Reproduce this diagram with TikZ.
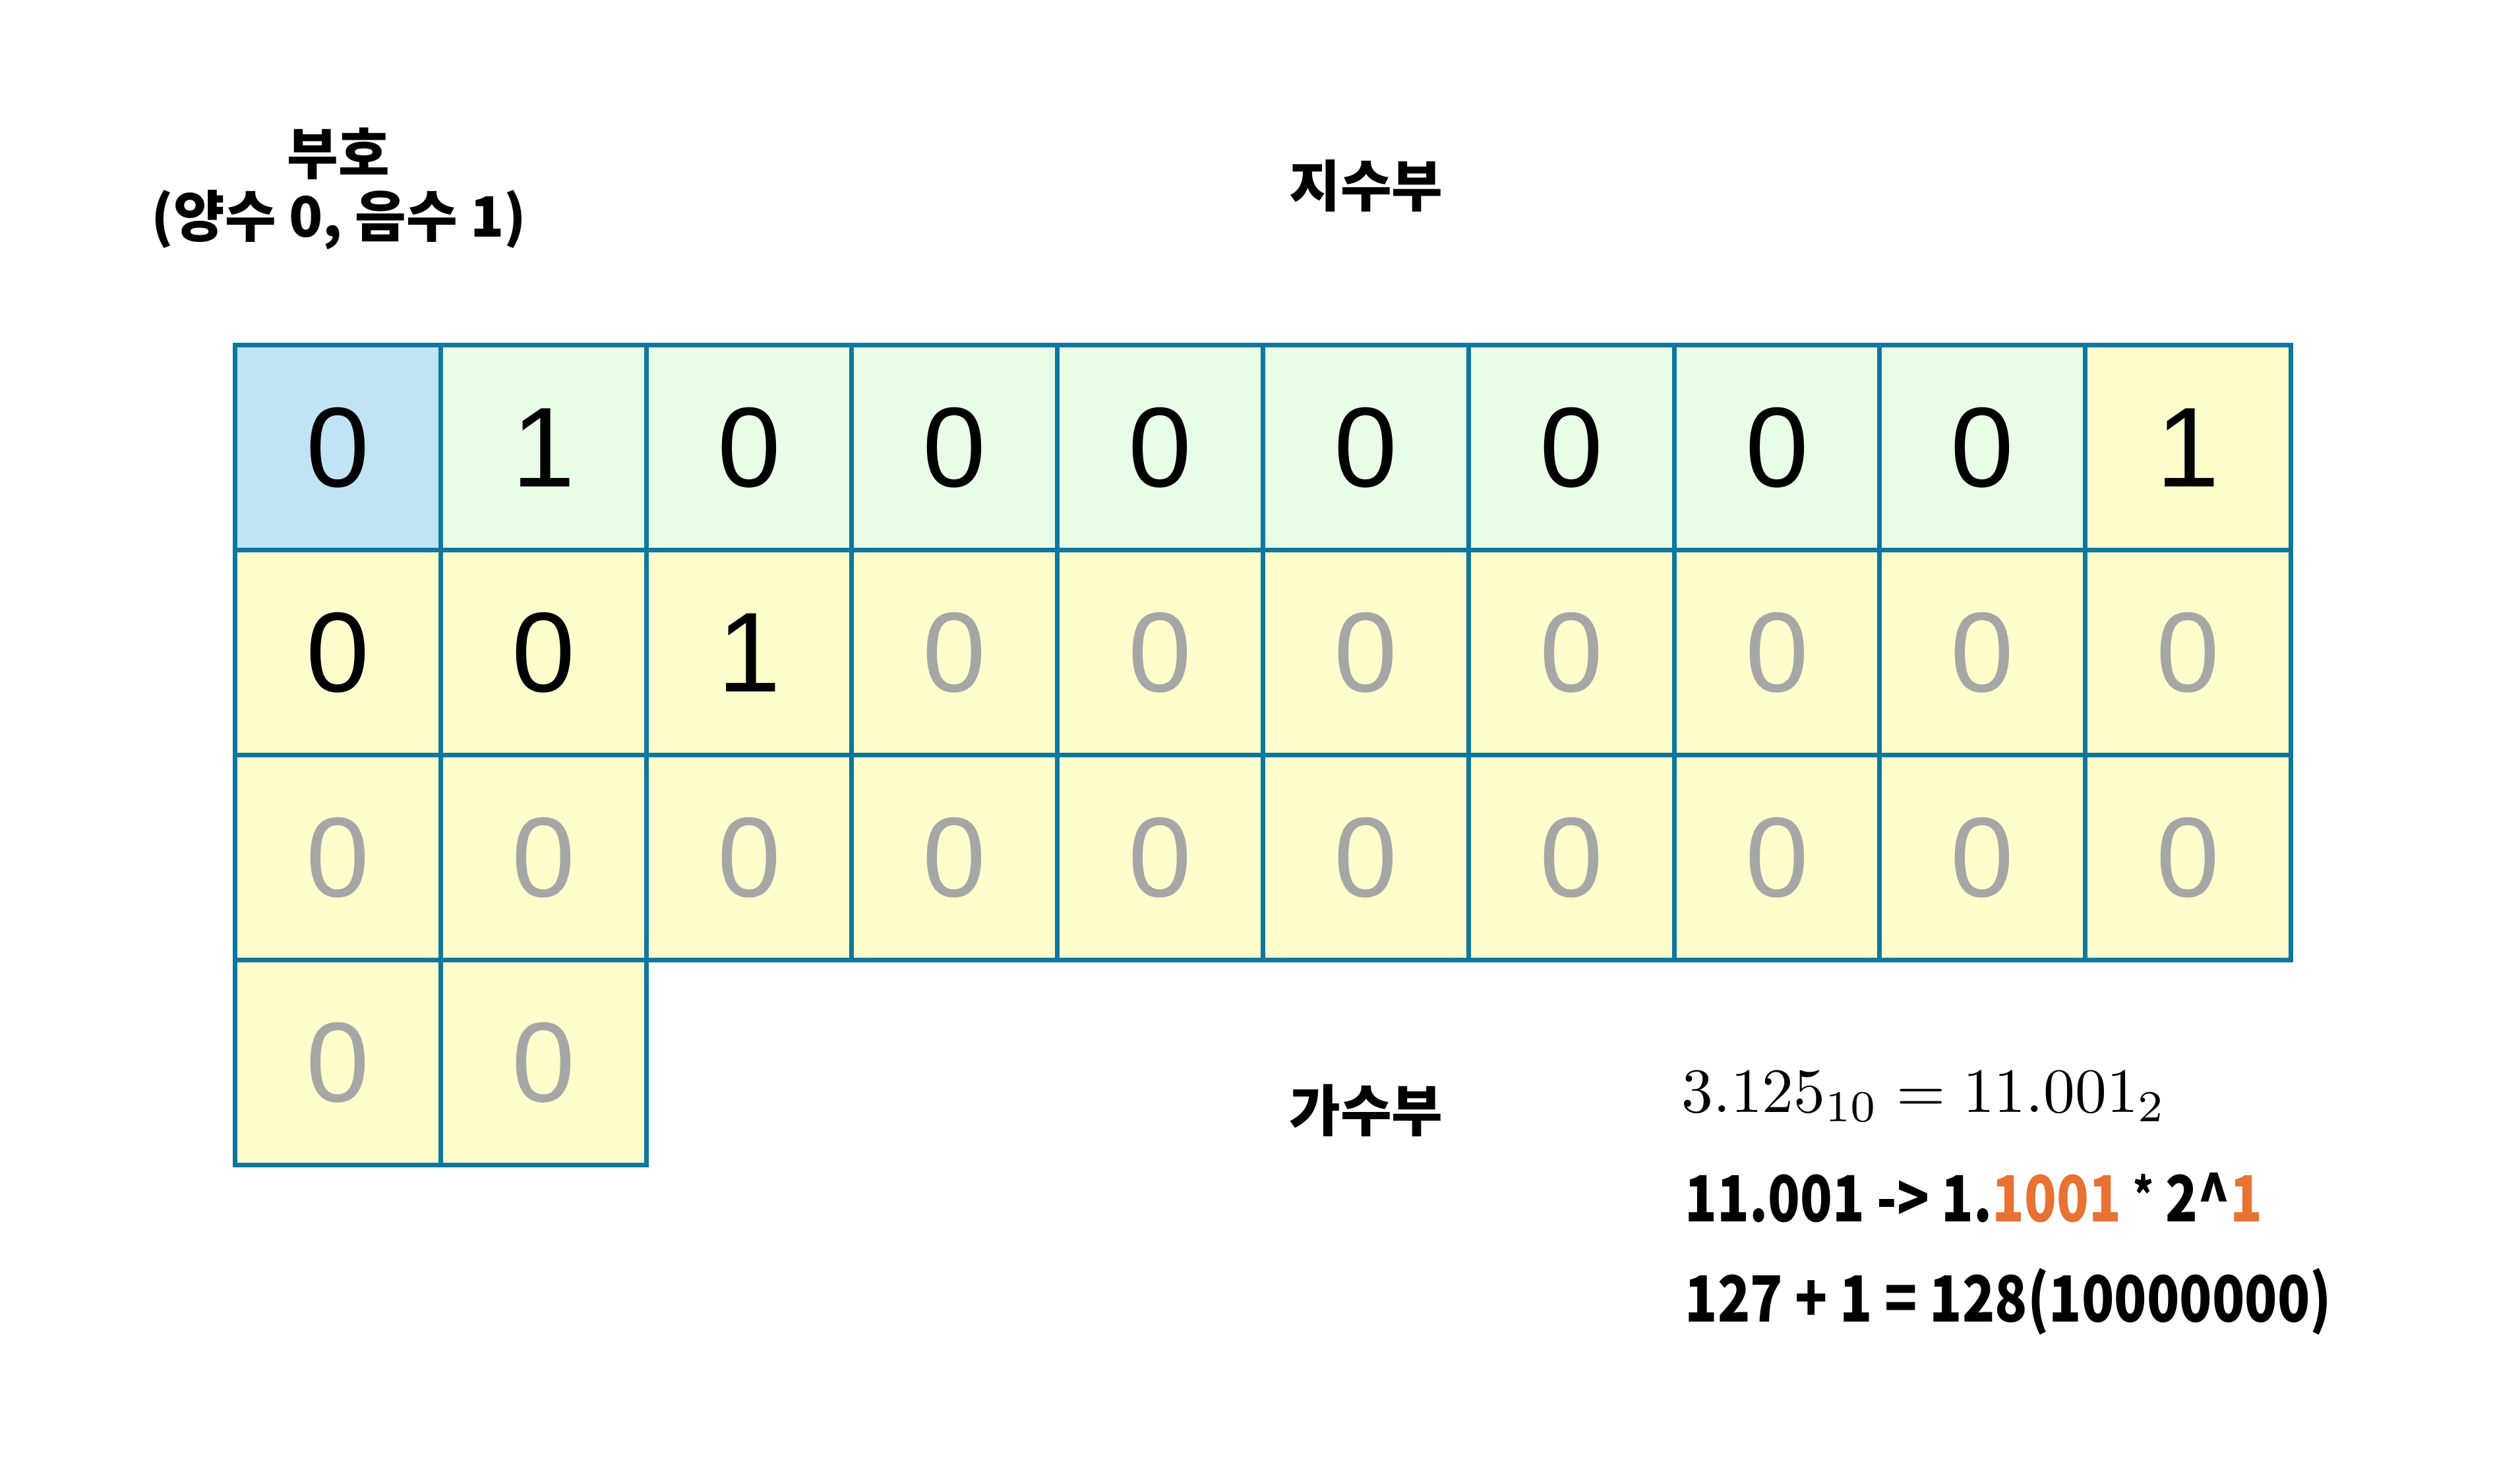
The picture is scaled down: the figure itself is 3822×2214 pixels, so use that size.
\documentclass[tikz,border=0pt]{standalone}
\usepackage{fontspec}
\newfontfamily\kr{Noto Sans CJK KR}
\newfontfamily\arialf{Liberation Sans}
\definecolor{gridblue}{HTML}{0E77A0}
\definecolor{signblue}{HTML}{C1E4F5}
\definecolor{expgreen}{HTML}{E8FDE6}
\definecolor{mantyellow}{HTML}{FEFDCB}
\definecolor{padgrey}{HTML}{A6A6A6}
\definecolor{orng}{HTML}{E97132}
\tikzset{
  cell/.style={draw=gridblue, line width=0.07cm, minimum width=3.118cm, minimum height=3.11cm,
    inner sep=0pt, font=\arialf\fontsize{49}{49}\selectfont},
  sgn/.style={cell, fill=signblue, text=black},
  expo/.style={cell, fill=expgreen, text=black},
  mant/.style={cell, fill=mantyellow, text=black},
  mpad/.style={cell, fill=mantyellow, text=padgrey},
  lbl/.style={inner sep=0pt, font=\kr\bfseries\fontsize{24}{24}\selectfont},
  note/.style={inner sep=0pt, anchor=base west, font=\kr\bfseries\fontsize{27.5}{27.5}\selectfont}
}
\begin{document}
\begin{tikzpicture}[x=0.01cm, y=-0.01cm]
\useasboundingbox (0,0) rectangle (3822,2214);
% row 0
\foreach \v/\s [count=\i from 0] in {0/sgn,1/expo,0/expo,0/expo,0/expo,0/expo,0/expo,0/expo,0/expo,1/mant}
  \node[\s] (r0c\i) at ({356.5+311.8*(\i+0.5)}, 679) {\v};
% row 1
\foreach \v/\s [count=\i from 0] in {0/mant,0/mant,1/mant,0/mpad,0/mpad,0/mpad,0/mpad,0/mpad,0/mpad,0/mpad}
  \node[\s] (r1c\i) at ({356.5+311.8*(\i+0.5)}, 990) {\v};
% row 2
\foreach \i in {0,...,9}
  \node[mpad] (r2c\i) at ({356.5+311.8*(\i+0.5)}, 1301) {0};
% row 3
\foreach \i in {0,1}
  \node[mpad] (r3c\i) at ({356.5+311.8*(\i+0.5)}, 1612) {0};
% labels
\node[lbl] (sign) at (513,233) {부호};
\node[lbl] (signnote) at (514,333) {(양수 0, 음수 1)};
\node[lbl] (expl) at (2072,282) {지수부};
\node[lbl] (manl) at (2072,1685) {가수부};
% notes
\node[inner sep=0pt, anchor=base west] (eq1) at (2550,1687) {\scalebox{2.72}{$3.125_{10} = 11.001_2$}};
\node[note] (eq2) at (2555,1853) {\scalebox{0.83}[1]{11.001 -> 1.\textcolor{orng}{1001} {\raisebox{0.15em}{\fontsize{20}{20}\selectfont *}} 2\textasciicircum\textcolor{orng}{1}}};
\node[note] (eq3) at (2555,2005) {\scalebox{0.84}[1]{127 + 1 = 128(10000000)}};
\end{tikzpicture}
\end{document}
